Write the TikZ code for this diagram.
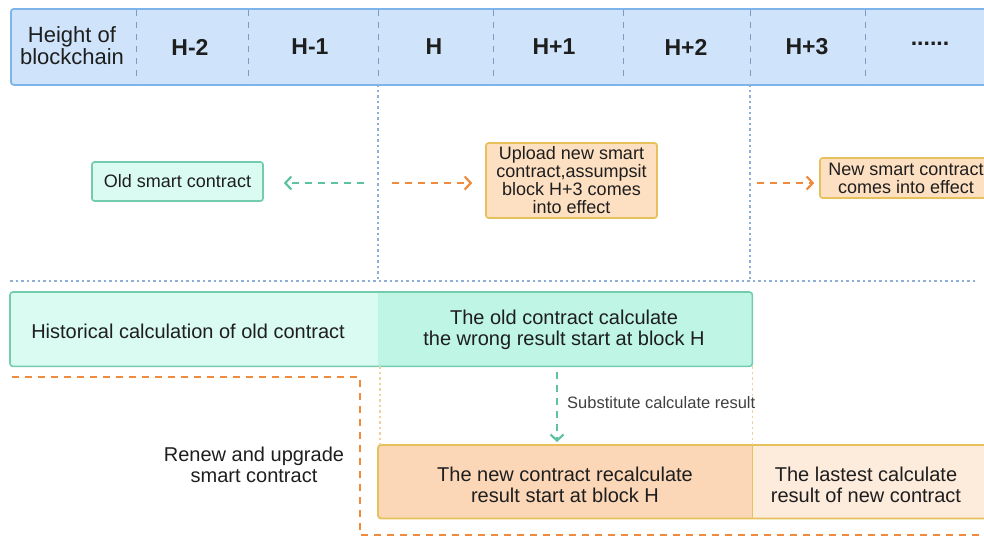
\documentclass[tikz,border=0pt]{standalone}
\usepackage{fontspec}
\setmainfont{Liberation Sans}
\usetikzlibrary{arrows.meta}

\definecolor{hdrfill}{HTML}{CFE4FA}
\definecolor{hdrline}{HTML}{7DB4EA}
\definecolor{sepline}{HTML}{7F9CC0}
\definecolor{gridline}{HTML}{8FAED6}
\definecolor{mintfill}{HTML}{DAFBF2}
\definecolor{mintdeep}{HTML}{BEF5E5}
\definecolor{mintline}{HTML}{74CCAE}
\definecolor{peachfill}{HTML}{FDDFC2}
\definecolor{peachdeep}{HTML}{FBD7B8}
\definecolor{peachlight}{HTML}{FDEBDC}
\definecolor{goldline}{HTML}{E6C05A}
\definecolor{orangedash}{HTML}{F08A3C}
\definecolor{tealdash}{HTML}{5CC2A2}
\definecolor{textgrey}{HTML}{1E1E1E}
\definecolor{paleorange}{HTML}{F1D0A0}

\tikzset{
  hdrtext/.style={font=\fontsize{22}{22}\selectfont, text=textgrey, align=center, inner sep=0pt},
  hdrbold/.style={font=\fontsize{23}{23}\selectfont\bfseries, text=textgrey, inner sep=0pt},
  bigtext/.style={font=\fontsize{20}{21}\selectfont, text=textgrey, align=center, inner sep=0pt},
  midtext/.style={font=\fontsize{18}{18}\selectfont, text=textgrey, align=center, inner sep=0pt},
  smalltext/.style={font=\fontsize{16.5}{17}\selectfont, text=textgrey!85, inner sep=0pt},
  mintbox/.style={draw=mintline, fill=mintfill, line width=1.6pt, rounded corners=2.5pt},
  peachbox/.style={draw=goldline, fill=peachfill, line width=1.6pt, rounded corners=2.5pt},
  cell/.style={draw=none, inner sep=0pt},
  gridrule/.style={draw=gridline, line width=1.2pt, dash pattern=on 2.5pt off 3pt},
  paleguide/.style={draw=paleorange, line width=1.2pt, dash pattern=on 2.5pt off 3pt},
  colsep/.style={draw=sepline, line width=0.9pt, dash pattern=on 6pt off 6pt},
  orangeline/.style={draw=orangedash, line width=2.6pt, dash pattern=on 7pt off 6pt},
  tealline/.style={draw=tealdash, line width=2.6pt, dash pattern=on 7pt off 6pt},
  chevron/.style={-{Straight Barb[length=6pt, width=13pt, line width=2.2pt]}},
}

\begin{document}
\begin{tikzpicture}[x=1pt, y=-1pt]
\useasboundingbox (0,0) rectangle (984,541);
\clip (0,0) rectangle (984,541);

% ---- block height ruler ----
\node[draw=hdrline, fill=hdrfill, line width=1.8pt, rounded corners=3pt,
      minimum width=984pt, minimum height=76pt, inner sep=0pt, anchor=north west]
  (ruler) at (10,8) {};
\foreach \x in {136,248,378,493,623,750,865}
  \draw[colsep] (\x,10) -- (\x,82);
\node[hdrtext] (hlabel) at (72,46) {Height of\\blockchain};
\node[hdrbold] (hm2) at (190,47) {H-2};
\node[hdrbold] (hm1) at (310,47) {H-1};
\node[hdrbold] (h0)  at (434,47) {H};
\node[hdrbold] (hp1) at (554,47) {H+1};
\node[hdrbold] (hp2) at (686,47) {H+2};
\node[hdrbold] (hp3) at (807,47) {H+3};
\node[hdrbold] (hdots) at (930,44) {......};

% ---- guide lines ----
\coordinate (gH)  at (378,84);
\coordinate (gH3) at (750,84);
\coordinate (rowL) at (10,281);
\coordinate (rowR) at (976,281);
\draw[gridrule] (gH) -- (gH |- rowL);
\draw[gridrule] (gH3) -- (gH3 |- rowL);
\draw[gridrule] (rowL) -- (rowR);

% ---- contract versions ----
\node[mintbox, midtext, minimum width=171pt, minimum height=39pt] (oldsc) at (177.5,181.5)
  {Old smart contract};
\node[peachbox, midtext, minimum width=171pt, minimum height=75pt] (upload) at (571.5,180.5)
  {Upload new smart\\contract,assumpsit\\block H+3 comes\\into effect};
\node[peachbox, midtext, minimum width=172pt, minimum height=40pt] (newsc) at (906,178)
  {New smart contract\\comes into effect};

\coordinate (leftfrom)  at (364,183);
\coordinate (rightfrom) at (392,183);
\coordinate (effectfrom) at (757,183);
\draw[tealline, chevron, shorten >=20pt] (leftfrom) -- (leftfrom -| oldsc.east);
\draw[orangeline, chevron, shorten >=13pt] (rightfrom) -- (rightfrom -| upload.west);
\draw[orangeline, chevron, shorten >=5pt] (effectfrom) -- (effectfrom -| newsc.west);

% ---- old contract results ----
\node[cell, fill=mintfill, minimum width=368pt, minimum height=74pt, anchor=north west]
  (hist) at (10,292) {};
\node[cell, fill=mintdeep, minimum width=374pt, minimum height=74pt, anchor=north west]
  (oldres) at (378,292) {};
\draw[draw=mintline, line width=1.6pt, rounded corners=3pt]
  (hist.north west) rectangle (oldres.south east);
\node[bigtext] (histtxt) at (188,331) {Historical calculation of old contract};
\node[bigtext] (oldrestxt) at (564,330) {The old contract calculate\\the wrong result start at block H};

% ---- new contract results ----
\node[cell, fill=peachdeep, minimum width=374pt, minimum height=73pt, anchor=north west]
  (newres) at (378,445) {};
\node[cell, fill=peachlight, minimum width=240pt, minimum height=73pt, anchor=north west]
  (lastres) at (752,445) {};
\draw[draw=goldline, line width=1.8pt, rounded corners=3pt]
  (newres.north west) rectangle (lastres.south east);
\draw[draw=goldline, line width=1.6pt] (newres.north east) -- (newres.south east);
\node[bigtext] (newrestxt) at (565,485) {The new contract recalculate\\result start at block H};
\node[bigtext] (lastrestxt) at (866,485) {The lastest calculate\\result of new contract};

% ---- pale guides between result rows ----
\draw[paleguide] ([xshift=2pt]oldres.south west) -- ([xshift=2pt]newres.north west);
\draw[paleguide] (oldres.south east) -- (newres.north east);

% ---- substitution arrow ----
\coordinate (subfrom) at (557,372);
\draw[tealline, chevron, shorten >=3pt] (subfrom) -- (subfrom |- newres.north);
\node[smalltext, anchor=west] (sublabel) at (567,403) {Substitute calculate result};

% ---- upgrade bracket ----
\coordinate (brA) at (12,377);
\coordinate (brB) at (360,377);
\coordinate (brC) at (360,535);
\coordinate (brD) at (990,535);
\draw[orangeline] (brA) -- (brB) -- (brC) -- (brD);
\node[bigtext] (renew) at (254,465) {Renew and upgrade\\smart contract};
\end{tikzpicture}
\end{document}
